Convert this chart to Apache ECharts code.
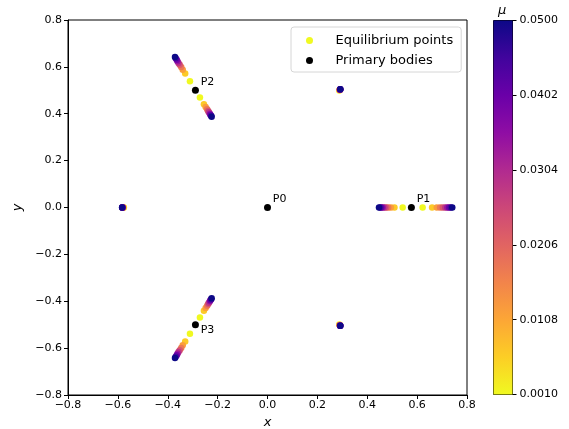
<!DOCTYPE html>
<html>
<head>
<meta charset="utf-8">
<script src="https://cdn.jsdelivr.net/npm/echarts@6/dist/echarts.min.js"></script>
<style>
html, body { margin: 0; padding: 0; background: #fff; }
#chart { width: 569px; height: 429px; }
</style>
</head>
<body>
<div id="chart"></div>
<script>
// mass parameter values (colour scale)
var mu = [0.001, 0.00644, 0.01189, 0.01733, 0.02278, 0.02822, 0.03367, 0.03911, 0.04456, 0.05];

// equilibrium points, one [x, y] per mu value
var eqInnerP1 = [[0.542,0],[0.509,0],[0.495,0],[0.484,0],[0.476,0],[0.469,0],[0.462,0],[0.457,0],[0.452,0],[0.447,0]];
var eqOuterP1 = [[0.622,0],[0.660,0],[0.679,0],[0.692,0],[0.703,0],[0.713,0],[0.721,0],[0.728,0],[0.735,0],[0.741,0]];
var eqInnerP2 = [[-0.271,0.469],[-0.255,0.441],[-0.248,0.429],[-0.242,0.419],[-0.238,0.412],[-0.235,0.406],[-0.231,0.400],[-0.229,0.396],[-0.226,0.391],[-0.224,0.387]];
var eqOuterP2 = [[-0.311,0.539],[-0.330,0.572],[-0.340,0.588],[-0.346,0.599],[-0.352,0.609],[-0.357,0.617],[-0.361,0.624],[-0.364,0.630],[-0.368,0.637],[-0.371,0.642]];
var eqInnerP3 = [[-0.271,-0.469],[-0.255,-0.441],[-0.248,-0.429],[-0.242,-0.419],[-0.238,-0.412],[-0.235,-0.406],[-0.231,-0.400],[-0.229,-0.396],[-0.226,-0.391],[-0.224,-0.387]];
var eqOuterP3 = [[-0.311,-0.539],[-0.330,-0.572],[-0.340,-0.588],[-0.346,-0.599],[-0.352,-0.609],[-0.357,-0.617],[-0.361,-0.624],[-0.364,-0.630],[-0.368,-0.637],[-0.371,-0.642]];
var eqLeft = [[-0.576,0],[-0.578,0],[-0.579,0],[-0.580,0],[-0.581,0],[-0.581,0],[-0.582,0],[-0.582,0],[-0.583,0],[-0.583,0]];
var eqUpper = [[0.288,0.499],[0.289,0.501],[0.290,0.501],[0.290,0.502],[0.291,0.503],[0.291,0.503],[0.291,0.504],[0.291,0.504],[0.292,0.505],[0.292,0.505]];
var eqLower = [[0.288,-0.499],[0.289,-0.501],[0.290,-0.501],[0.290,-0.502],[0.291,-0.503],[0.291,-0.503],[0.291,-0.504],[0.291,-0.504],[0.292,-0.505],[0.292,-0.505]];

// primary bodies
var primaryNames = ['P0', 'P1', 'P2', 'P3'];
var primaryPos = [[0, 0], [0.577, 0], [-0.289, 0.5], [-0.289, -0.5]];

// colorbar tick labels
var colorbarTicks = ['0.0010', '0.0108', '0.0206', '0.0304', '0.0402', '0.0500'];

// plasma colormap, 0 -> 1
var plasma = ['#0d0887','#41049d','#6a00a8','#8f0da4','#b12a90','#cc4778','#e16462','#f2844b','#fca636','#fcce25','#f0f921'];

var families = [eqInnerP1, eqOuterP1, eqInnerP2, eqOuterP2, eqInnerP3, eqOuterP3, eqLeft, eqUpper, eqLower];
var eqData = [];
for (var i = 0; i < mu.length; i++) {
  for (var f = 0; f < families.length; f++) {
    eqData.push([families[f][i][0], families[f][i][1], mu[i]]);
  }
}

var primaryData = primaryNames.map(function (n, i) {
  var below = n === 'P3';
  return {
    name: n,
    value: primaryPos[i],
    label: { position: [8.8, below ? 9.2 : -5] }
  };
});

var font = 'DejaVu Sans';
function fmt(v) { return v.toFixed(1).replace('-', '\u2212'); }

var chart = echarts.init(document.getElementById('chart'));
chart.setOption({
  animation: false,
  textStyle: { fontFamily: font, color: '#000' },
  title: {
    text: 'μ', left: 498, top: 4, padding: 0,
    textStyle: { fontFamily: font, fontStyle: 'italic', fontWeight: 'normal', fontSize: 13, color: '#000' }
  },
  grid: [
    { left: 68, right: 102, top: 20, bottom: 34, show: true, borderColor: '#000', borderWidth: 1, outerBoundsMode: 'none' },
    { left: 493.5, width: 19, top: 20.5, height: 374, show: true, borderColor: '#000', borderWidth: 1, outerBoundsMode: 'none' }
  ],
  legend: {
    orient: 'vertical', left: 291, top: 27,
    padding: [6, 8, 4, 15], itemGap: 5,
    itemWidth: 26, itemHeight: 7,
    backgroundColor: 'rgba(255,255,255,0.8)',
    borderColor: '#d6d6d6', borderWidth: 1, borderRadius: 3,
    textStyle: { fontFamily: font, fontSize: 13, color: '#000', lineHeight: 15, padding: [0, 0, 0, 8] },
    data: [
      { name: 'Equilibrium points', icon: 'circle', itemStyle: { color: '#f0f921' } },
      { name: 'Primary bodies', icon: 'circle', itemStyle: { color: '#000' } }
    ]
  },
  visualMap: {
    show: false, type: 'continuous', seriesIndex: 0, dimension: 2,
    min: 0.001, max: 0.05,
    inRange: { color: plasma.slice().reverse() }
  },
  xAxis: [
    {
      gridIndex: 0, type: 'value', min: -0.8, max: 0.8, interval: 0.2,
      name: 'x', nameLocation: 'middle', nameGap: 20,
      nameTextStyle: { fontStyle: 'italic', fontSize: 13, color: '#000' },
      axisLine: { onZero: false, lineStyle: { color: '#000' } },
      axisTick: { length: 4, lineStyle: { color: '#000' } },
      axisLabel: { fontSize: 11, color: '#000', margin: 5, formatter: fmt },
      splitLine: { show: false }
    },
    { gridIndex: 1, type: 'category', data: ['c'], show: false }
  ],
  yAxis: [
    {
      gridIndex: 0, type: 'value', min: -0.8, max: 0.8, interval: 0.2,
      name: 'y', nameLocation: 'middle', nameGap: 40,
      nameTextStyle: { fontStyle: 'italic', fontSize: 13, color: '#000' },
      axisLine: { onZero: false, lineStyle: { color: '#000' } },
      axisTick: { length: 4, lineStyle: { color: '#000' } },
      axisLabel: { fontSize: 11, color: '#000', margin: 6, formatter: fmt },
      splitLine: { show: false }
    },
    {
      gridIndex: 1, type: 'value', position: 'right', min: 0, max: 5, interval: 1,
      axisLine: { show: true, onZero: false, lineStyle: { color: '#000' } },
      axisTick: { show: true, length: 4, lineStyle: { color: '#000' } },
      axisLabel: { fontSize: 11, color: '#000', margin: 7, formatter: function (v) { return colorbarTicks[v]; } },
      splitLine: { show: false }
    }
  ],
  series: [
    {
      name: 'Equilibrium points', type: 'scatter', xAxisIndex: 0, yAxisIndex: 0,
      symbolSize: 6.5, itemStyle: { color: '#f0f921', opacity: 1 },
      data: eqData, z: 2
    },
    {
      name: 'Primary bodies', type: 'scatter', xAxisIndex: 0, yAxisIndex: 0,
      symbolSize: 7, itemStyle: { color: '#000', opacity: 1 },
      label: { show: true, formatter: '{b}', fontSize: 11, color: '#000', align: 'left', verticalAlign: 'middle' },
      data: primaryData, z: 3
    },
    {
      type: 'bar', xAxisIndex: 1, yAxisIndex: 1, data: [5], barWidth: '100%', silent: true,
      itemStyle: {
        color: new echarts.graphic.LinearGradient(0, 0, 0, 1, plasma.map(function (c, i) {
          return { offset: i / (plasma.length - 1), color: c };
        }))
      }
    }
  ]
});
</script>
</body>
</html>
